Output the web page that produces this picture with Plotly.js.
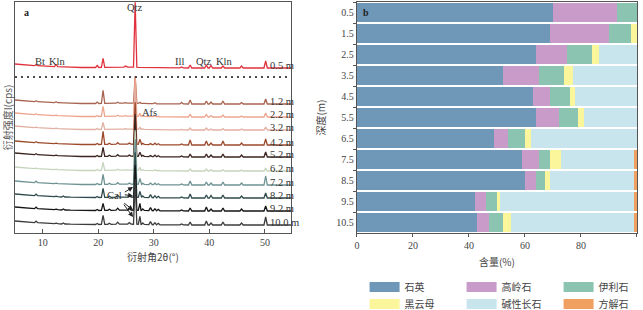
<!DOCTYPE html>
<html><head><meta charset="utf-8">
<script src="https://cdn.plot.ly/plotly-3.0.1.min.js"></script>
<style>body{margin:0;background:#fff}#chart{width:643px;height:310px}</style>
</head><body><div id="chart"></div>
<script>
// ---------- Panel a : XRD patterns ----------
const sampleDepths = ['0.5 m','1.2 m','2.2 m','3.2 m','4.2 m','5.2 m','6.2 m','7.2 m','8.2 m','9.2 m','10.0 m'];
const baselineOffsets = [165,129,116,103,88,76,62,48,35,22,8];
const sampleColors = ['#e0323c','#a86450','#eea58f','#e2b0a2','#9c4a2c','#3c2420','#c6d4bc','#6f9292','#2f4a4c','#151515','#3c3c3c'];
const bgAngles = [5, 6.5, 15, 17, 33, 54.7];
const bgLevels = [4, 3.2, 0.8, 0.5, 0.1, 0];
const peakAngles = [8.8,12.4,13.7,19.8,20.86,22.0,23.5,24.9,25.6,26.64,27.5,28.0,29.4,30.2,30.8,35.0,36.54,39.46,40.3,42.45,45.8,50.14];
const bgAtPeaks  = [2.3,1.3,1.0,0.5,0.6,0.7,0.8,0.9,0.9,0.8,0.7,0.6,0.4,0.3,0.2,0.1,0,0,0,0,0,0];
const peaks_0_5  = [1,2,0,2,9,0,0.5,1,0,65,0,0,0,0.5,0,1,3,3,2.5,2,2,7];
const peaks_1_2  = [1,1,0,1.5,13,0.5,1,0.5,0,27,1,0,0,1,0,1.5,4,3,2,3,1.5,5];
const peaks_2_2  = [1,0.5,0,1,10,0.5,1,0.5,0.5,40,3,0.5,0.5,1,0.5,0.5,3,2.5,1.5,2,1,4];
const peaks_3_2  = [0.5,0.5,0,1,7,0.5,0.5,0.5,0.5,40,2,0.5,0.5,0.5,0.5,0.5,2,2,1,1.5,1,3];
const peaks_4_2  = [1,0.5,0.5,1,13,1,1.5,0.5,1,42,5,1,1,1.5,1,1,5,4,2,4,2,6];
const peaks_5_2  = [1,0.5,0.5,1,9,1,1.5,0.5,1,42,4,1,1,1.5,1,1,3,3,2,3,2,5];
const peaks_6_2  = [0.5,0.5,0.5,1,8,0.5,1,0.5,0.5,40,3,0.5,0.5,1,0.5,0.5,2,2,1.5,1.5,1,3];
const peaks_7_2  = [1.5,0.5,0.5,1,10,1,1.5,0.5,1,45,6,1,1.5,1.5,1,1,4,3,2,3,2,9];
const peaks_8_2  = [1.5,0.5,1,1,9,1,2,0.5,1.5,45,6,1.5,3,2,1.5,1,4,3,2.5,3,2,5];
const peaks_9_2  = [1.5,0.5,1,1,7,1,2,0.5,1.5,45,7,1.5,3,2,1.5,1,3,4,2,3,2,5];
const peaks_10_0 = [1.5,0.5,1,1,9,1,2,0.5,1.5,45,8,1.5,3,2,1.5,1,3,4,2,3,2,8];
const samplePeaks = [peaks_0_5,peaks_1_2,peaks_2_2,peaks_3_2,peaks_4_2,peaks_5_2,peaks_6_2,peaks_7_2,peaks_8_2,peaks_9_2,peaks_10_0];

// ---------- Panel b : mineral composition ----------
const depthLabels = ['0.5','1.5','2.5','3.5','4.5','5.5','6.5','7.5','8.5','9.5','10.5'];
const mineralNames = ['石英','高岭石','伊利石','黑云母','碱性长石','方解石'];
const mineralColors = ['#6f97b8','#c89bc8','#8cc4b2','#fbf59c','#c8e4ec','#f0a060'];
const quartz    = [70,69,64,52,63,64,49,59,60,42,43];
const kaolinite = [23,21,11,13,6,8,5,6,4,4,4];
const illite    = [7,8,9,9,7,7,6,4,3,4,5];
const biotite   = [0,2,2.5,3,2,2,2,4,2,1,3];
const feldspar  = [0,0,13.5,23,22,19,38,26,30,48,44];
const calcite   = [0,0,0,0,0,0,0,1,1,1,1];
const mineralValues = [quartz,kaolinite,illite,biotite,feldspar,calcite];

const serif = 'Liberation Serif, Times New Roman, serif';
const cjk = 'Noto Sans CJK SC, sans-serif';
const traces = [];

samplePeaks.forEach((pk, i) => {
  const pts = [];
  bgAngles.forEach((a, j) => pts.push([a, baselineOffsets[i] + bgLevels[j]]));
  peakAngles.forEach((p, j) => {
    const b = baselineOffsets[i] + bgAtPeaks[j];
    pts.push([p - 0.3, b]); pts.push([p, b + pk[j]]); pts.push([p + 0.3, b]);
  });
  pts.sort((u, v) => u[0] - v[0]);
  traces.push({type:'scatter', mode:'lines', x: pts.map(q=>q[0]), y: pts.map(q=>q[1]),
    line:{color: sampleColors[i], width:1.3}, xaxis:'x', yaxis:'y', showlegend:false, hoverinfo:'skip'});
});

mineralValues.forEach((vals, k) => {
  traces.push({type:'bar', orientation:'h', x: vals, y: depthLabels, name: mineralNames[k],
    marker:{color: mineralColors[k], line:{width:0}}, xaxis:'x2', yaxis:'y2', showlegend:false});
});
mineralNames.forEach((nm, k) => {
  traces.push({type:'scatter', mode:'lines', x:[null], y:[null], name: nm,
    line:{color: mineralColors[k], width:10}, xaxis:'x2', yaxis:'y2',
    legend: k < 3 ? 'legend' : 'legend2', showlegend:true});
});

const ann = [];
sampleDepths.forEach((d, i) => {
  ann.push({xref:'x', yref:'y', x:50.55, y: baselineOffsets[i] + 3, text:d, showarrow:false,
    xanchor:'left', yanchor:'middle', font:{family:serif, size:10.5, color:'#333'}});
});
const lbl = (t, x, y) => ({xref:'x', yref:'y', x, y, text:t, showarrow:false, xanchor:'center', yanchor:'middle', font:{family:serif, size:10.5, color:'#333'}});
ann.push(lbl('Qtz', 26.6, 226));
ann.push(lbl('Bt', 9.5, 172));
ann.push(lbl('Kln', 12.7, 172));
ann.push(lbl('Ill', 34.7, 172));
ann.push(lbl('Qtz', 39.0, 172));
ann.push(lbl('Kln', 42.8, 172));
ann.push(lbl('Afs', 29.2, 121));
ann.push(lbl('Cal', 23.0, 38));
[[26.26,46,24.5,40],[26.26,37,24.5,38.5],[26.26,23,24.4,31],[26.26,16,24.4,30]].forEach(a => {
  ann.push({xref:'x', yref:'y', axref:'x', ayref:'y', x:a[0], y:a[1], ax:a[2], ay:a[3], text:'',
    showarrow:true, arrowhead:2, arrowsize:1, arrowwidth:1, arrowcolor:'#222', standoff:0});
});
ann.push({xref:'paper', yref:'paper', x:0.012, y:0.985, text:'<b>a</b>', showarrow:false, xanchor:'left', yanchor:'top', font:{family:serif, size:10, color:'#222'}});
ann.push({xref:'paper', yref:'paper', x:0.556, y:0.985, text:'<b>b</b>', showarrow:false, xanchor:'left', yanchor:'top', font:{family:serif, size:10, color:'#222'}});

const axLine = {showline:true, linecolor:'#555', linewidth:1.3, mirror:true, zeroline:false, showgrid:false};
const legBase = {orientation:'h', xref:'container', yref:'container', x:0.567, xanchor:'left', yanchor:'middle',
  traceorder:'normal', entrywidth:52, itemwidth:30, font:{family:cjk, size:10, color:'#444'}, bgcolor:'rgba(0,0,0,0)'};
const layout = {
  width:643, height:310, margin:{l:15, r:6, t:2, b:77},
  paper_bgcolor:'#fff', plot_bgcolor:'#fff',
  barmode:'stack', bargap:0.14,
  font:{family:serif, size:10, color:'#444'},
  xaxis: Object.assign({}, axLine, {domain:[0,0.4437], range:[5,54.7], tickvals:[10,20,30,40,50],
    ticks:'inside', ticklen:4, tickcolor:'#555', tickfont:{family:serif, size:10, color:'#444'},
    title:{text:'衍射角2θ(°)', font:{family:cjk, size:10, color:'#444'}, standoff:6}}),
  yaxis: Object.assign({}, axLine, {domain:[0,1], range:[0,231], showticklabels:false, ticks:'',
    title:{text:'衍射强度I(cps)', font:{family:cjk, size:10, color:'#555'}, standoff:0}}),
  xaxis2: Object.assign({}, axLine, {domain:[0.5498,1], range:[0,100], anchor:'y2', tickvals:[0,20,40,60,80,100],
    ticks:'outside', ticklen:3, tickcolor:'#555', tickfont:{family:serif, size:10, color:'#444'},
    title:{text:'含量(%)', font:{family:cjk, size:10, color:'#444'}, standoff:8}}),
  yaxis2: Object.assign({}, axLine, {domain:[0,1], anchor:'x2', type:'category', autorange:'reversed',
    tickson:'boundaries', ticks:'outside', ticklen:3, tickcolor:'#555', tickfont:{family:serif, size:10, color:'#444'},
    title:{text:'深度(m)', font:{family:cjk, size:10, color:'#444'}, standoff:8}}),
  shapes:[{type:'line', xref:'x', yref:'y', x0:5, x1:54.7, y0:156, y1:156, line:{color:'#111', width:1.5, dash:'2px,4px'}}],
  annotations: ann,
  legend: Object.assign({}, legBase, {y:0.074}),
  legend2: Object.assign({}, legBase, {y:0.019})
};
Plotly.newPlot('chart', traces, layout, {staticPlot:true, displayModeBar:false});
</script></body></html>
